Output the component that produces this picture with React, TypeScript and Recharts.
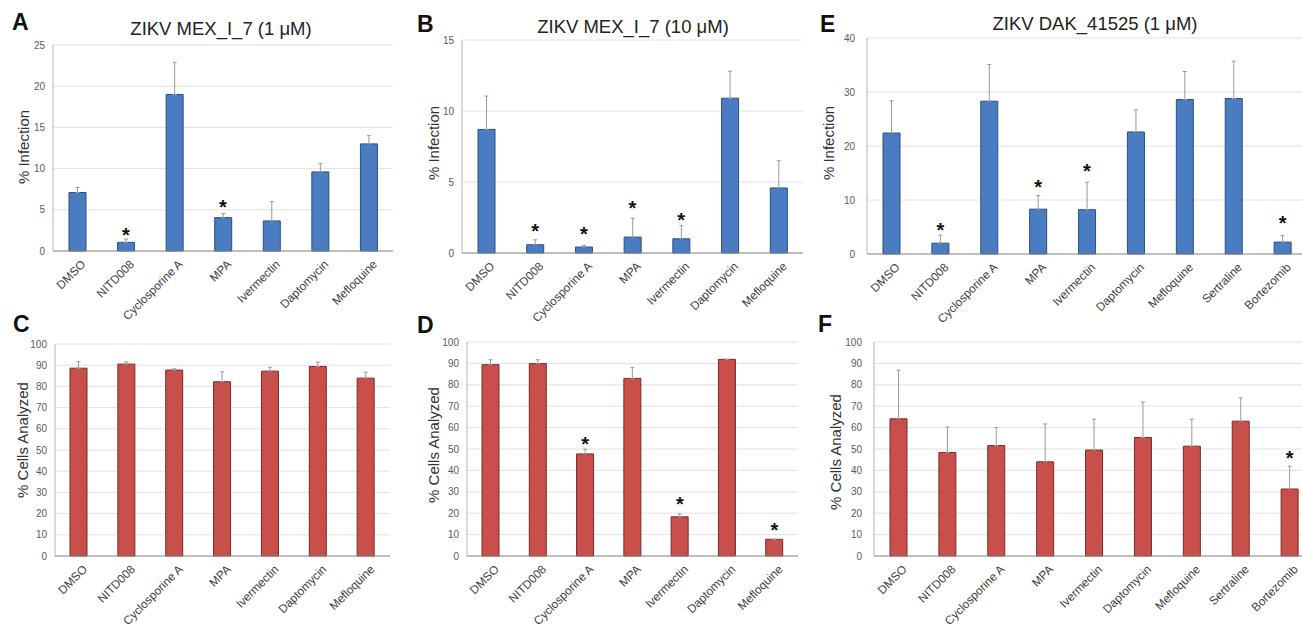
import React from 'react';
import { ComposedChart, Bar, XAxis, YAxis, CartesianGrid, ErrorBar, Scatter } from 'recharts';

const FONT = '"Liberation Sans", Arial, Helvetica, sans-serif';

// categories
const drugs7 = ['DMSO', 'NITD008', 'Cyclosporine A', 'MPA', 'Ivermectin', 'Daptomycin', 'Mefloquine'];
const drugs9 = ['DMSO', 'NITD008', 'Cyclosporine A', 'MPA', 'Ivermectin', 'Daptomycin', 'Mefloquine', 'Sertraline', 'Bortezomib'];

// Panel A: ZIKV MEX_I_7 (1 uM) % infection
const valA = [7.1, 1.05, 19.0, 4.05, 3.65, 9.6, 13.0];
const errA = [0.6, 0.4, 3.9, 0.5, 2.35, 1.0, 1.0];
const starA = [null, 2.4, null, 5.8, null, null, null];

// Panel B: ZIKV MEX_I_7 (10 uM) % infection
const valB = [8.7, 0.58, 0.42, 1.12, 1.0, 10.9, 4.58];
const errB = [2.35, 0.35, 0.12, 1.33, 0.92, 1.9, 1.92];
const starB = [null, 1.8, 1.6, 3.46, 2.62, null, null];

// Panel E: ZIKV DAK_41525 (1 uM) % infection
const valE = [22.4, 2.0, 28.3, 8.3, 8.2, 22.6, 28.6, 28.8, 2.2];
const errE = [6.0, 1.5, 6.8, 2.5, 5.1, 4.1, 5.2, 6.9, 1.2];
const starE = [null, 5.1, null, 13.2, 16.2, null, null, null, 6.4];

// Panel C: % cells analyzed (1 uM)
const valC = [88.6, 90.5, 87.7, 82.2, 87.2, 89.4, 83.9];
const errC = [3.0, 1.1, 0.6, 4.7, 1.8, 2.1, 2.8];
const starC = [null, null, null, null, null, null, null];

// Panel D: % cells analyzed (10 uM)
const valD = [89.4, 89.9, 47.7, 83.0, 18.3, 91.9, 7.8];
const errD = [2.3, 1.8, 2.2, 5.0, 1.4, 0, 0];
const starD = [null, null, 54.3, null, 26.2, null, 14.0];

// Panel F: % cells analyzed (DAK_41525)
const valF = [64.1, 48.4, 51.6, 44.0, 49.5, 55.4, 51.3, 63.0, 31.3];
const errF = [22.7, 11.9, 8.4, 17.7, 14.4, 16.5, 12.6, 10.9, 10.7];
const starF = [null, null, null, null, null, null, null, null, 47.6];

const ticksInfA = [0, 5, 10, 15, 20, 25];
const ticksInfB = [0, 5, 10, 15];
const ticksInfE = [0, 10, 20, 30, 40];
const ticksCells = [0, 10, 20, 30, 40, 50, 60, 70, 80, 90, 100];

const BLUE = '#4a7cc1';
const BLUE_EDGE = '#2b4f80';
const RED = '#c94f4b';
const RED_EDGE = '#7a2a28';

function build(names: string[], vals: number[], errs: number[], stars: (number | null)[]) {
  return names.map((n, i) => ({ name: n, v: vals[i], e: [0, errs[i]], s: stars[i] }));
}

const XTick = (props: any) => {
  const { x, y, payload } = props;
  return (
    <text
      transform={`translate(${x + 9},${y + 14}) rotate(-45)`}
      textAnchor="end"
      fontSize={11.8}
      fill="#404040"
      fontFamily={FONT}
    >
      {payload.value}
    </text>
  );
};

const StarShape = (props: any) => {
  const { cx, cy, payload } = props;
  if (!payload || payload.s == null || !isFinite(cx) || !isFinite(cy)) return <g />;
  return (
    <text x={cx} y={cy + 11} textAnchor="middle" fontSize={20} fontWeight="bold" fill="#111" fontFamily={FONT}>
      *
    </text>
  );
};

type PanelProps = {
  names: string[];
  vals: number[];
  errs: number[];
  stars: (number | null)[];
  ticks: number[];
  fill: string;
  edge: string;
  plotLeft: number;
  plotTop: number;
  plotWidth: number;
  plotHeight: number;
  tickMargin?: number;
};

const YW = 45;
const MT = 8;
const XH = 80;

const Panel = (p: PanelProps) => {
  const data = build(p.names, p.vals, p.errs, p.stars);
  const w = YW + p.plotWidth + 4;
  const h = MT + p.plotHeight + XH;
  const maxV = p.ticks[p.ticks.length - 1];
  return (
    <div style={{ position: 'absolute', left: p.plotLeft - YW, top: p.plotTop - MT }}>
      <ComposedChart width={w} height={h} data={data} margin={{ top: MT, right: 4, left: 0, bottom: 0 }}>
        <CartesianGrid vertical={false} stroke="#e2e2e2" />
        <XAxis
          dataKey="name"
          type="category"
          interval={0}
          tickLine={false}
          tickSize={0}
          tickMargin={0}
          axisLine={{ stroke: '#8c8c8c' }}
          height={XH}
          tick={<XTick />}
        />
        <YAxis
          width={YW}
          type="number"
          domain={[0, maxV]}
          ticks={p.ticks}
          interval={0}
          tickLine={false}
          tickMargin={p.tickMargin ?? 2}
          axisLine={{ stroke: '#b5b5b5' }}
          tick={{ fontSize: 10, fill: '#5a5a5a', fontFamily: FONT }}
        />
        <Bar dataKey="v" fill={p.fill} stroke={p.edge} strokeWidth={1} barSize={17} isAnimationActive={false}>
          <ErrorBar dataKey="e" width={2} stroke="#9a9a9a" strokeWidth={1} direction="y" />
        </Bar>
        <Scatter dataKey="s" shape={StarShape} isAnimationActive={false} />
      </ComposedChart>
    </div>
  );
};

const Letter = ({ x, baseline, t }: { x: number; baseline: number; t: string }) => (
  <div
    style={{
      position: 'absolute',
      left: x,
      top: baseline - 19.5,
      fontSize: 23,
      lineHeight: '23px',
      fontWeight: 'bold',
      fontFamily: FONT,
      color: '#111',
    }}
  >
    {t}
  </div>
);

const Title = ({ cx, baseline, t }: { cx: number; baseline: number; t: string }) => (
  <div
    style={{
      position: 'absolute',
      left: cx,
      top: baseline - 15.7,
      transform: 'translateX(-50%)',
      fontSize: 18.5,
      lineHeight: '18.5px',
      fontFamily: FONT,
      color: '#222',
      whiteSpace: 'nowrap',
    }}
  >
    {t}
  </div>
);

const YTitle = ({ cx, cy, t }: { cx: number; cy: number; t: string }) => (
  <div
    style={{
      position: 'absolute',
      left: cx,
      top: cy,
      transform: 'translate(-50%, -50%) rotate(-90deg)',
      fontSize: 15,
      lineHeight: '15px',
      fontFamily: FONT,
      color: '#333',
      whiteSpace: 'nowrap',
    }}
  >
    {t}
  </div>
);

export default function App() {
  return (
    <div
      style={{
        position: 'absolute',
        left: 0,
        top: 0,
        width: 1302,
        height: 631,
        overflow: 'hidden',
        background: '#fff',
        fontFamily: FONT,
      }}
    >
      <Panel names={drugs7} vals={valA} errs={errA} stars={starA} ticks={ticksInfA} fill={BLUE} edge={BLUE_EDGE}
        plotLeft={53} plotTop={45} plotWidth={340} plotHeight={206} />
      <Panel names={drugs7} vals={valB} errs={errB} stars={starB} ticks={ticksInfB} fill={BLUE} edge={BLUE_EDGE}
        plotLeft={462} plotTop={40} plotWidth={341} plotHeight={213} />
      <Panel names={drugs9} vals={valE} errs={errE} stars={starE} ticks={ticksInfE} fill={BLUE} edge={BLUE_EDGE}
        plotLeft={867} plotTop={38} plotWidth={440} plotHeight={216} tickMargin={6} />
      <Panel names={drugs7} vals={valC} errs={errC} stars={starC} ticks={ticksCells} fill={RED} edge={RED_EDGE}
        plotLeft={55} plotTop={344} plotWidth={335} plotHeight={212} />
      <Panel names={drugs7} vals={valD} errs={errD} stars={starD} ticks={ticksCells} fill={RED} edge={RED_EDGE}
        plotLeft={467} plotTop={342} plotWidth={331} plotHeight={214} />
      <Panel names={drugs9} vals={valF} errs={errF} stars={starF} ticks={ticksCells} fill={RED} edge={RED_EDGE}
        plotLeft={874} plotTop={342} plotWidth={440} plotHeight={214} tickMargin={6} />

      <Letter x={12} baseline={30} t="A" />
      <Letter x={417} baseline={32} t="B" />
      <Letter x={820} baseline={32} t="E" />
      <Letter x={13} baseline={332} t="C" />
      <Letter x={417} baseline={333} t="D" />
      <Letter x={818} baseline={332} t="F" />

      <Title cx={221} baseline={36} t="ZIKV MEX_I_7 (1 μM)" />
      <Title cx={633} baseline={34} t="ZIKV MEX_I_7 (10 μM)" />
      <Title cx={1095} baseline={31} t="ZIKV DAK_41525 (1 μM)" />

      <YTitle cx={23} cy={147} t="% Infection" />
      <YTitle cx={433} cy={143} t="% Infection" />
      <YTitle cx={828} cy={143} t="% Infection" />
      <YTitle cx={22} cy={440} t="% Cells Analyzed" />
      <YTitle cx={433} cy={445} t="% Cells Analyzed" />
      <YTitle cx={835} cy={452} t="% Cells Analyzed" />
    </div>
  );
}
